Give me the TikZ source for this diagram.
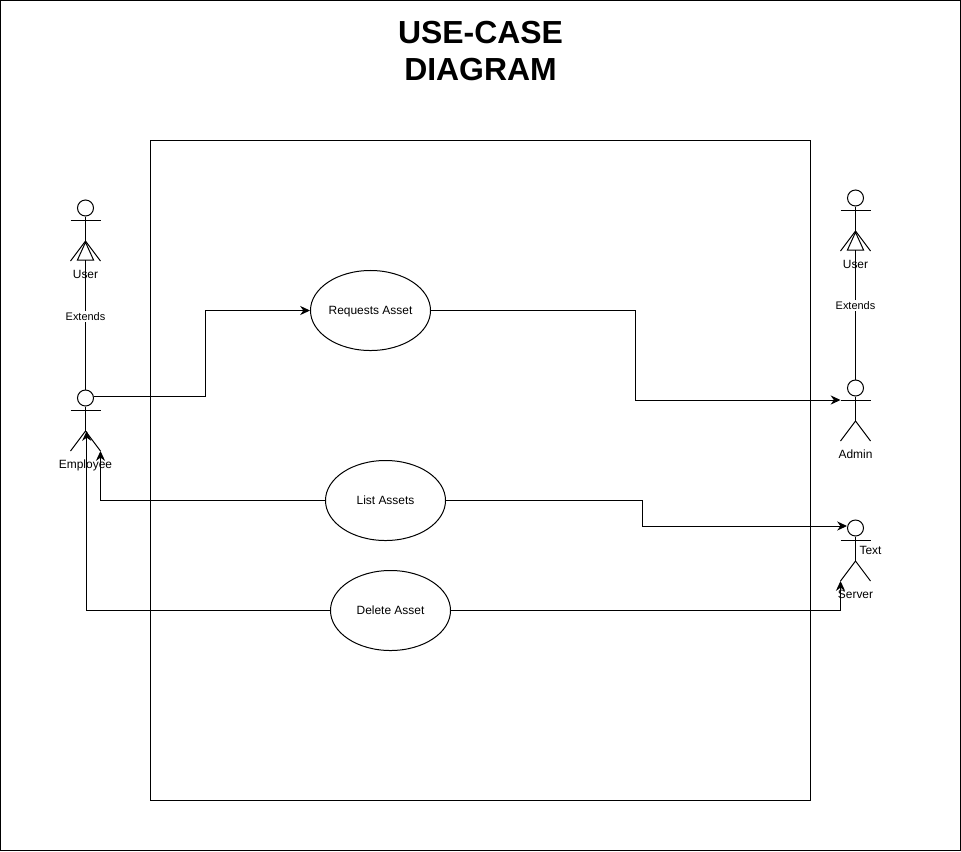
\documentclass[tikz,border=0pt]{standalone}
\usepackage{fontspec}
\setmainfont{Liberation Sans}
\usetikzlibrary{arrows.meta,positioning,shapes.geometric}
\tikzset{
  usecase/.style={draw,ellipse,minimum width=3cm,minimum height=2cm,inner sep=0pt,text height=6pt,text depth=0.6pt,font=\fontsize{8.5}{10}\selectfont},
  flow/.style={-{Stealth[length=7pt,width=6.5pt]}},
  extends/.style={-{Triangle[open,length=14pt,width=12.5pt]}},
  small/.style={inner sep=1pt,text height=6pt,text depth=0.6pt,font=\fontsize{8.5}{10}\selectfont},
  extlabel/.style={fill=white,inner sep=1pt,font=\fontsize{7.8}{9}\selectfont},
  actor/.pic={
    \node (-head) [draw,circle,minimum size=0.4cm,inner sep=0pt] at (0,0) {};
    \coordinate (-hip) at (0,33);
    \coordinate (-lhand) at (-15,12);
    \coordinate (-rhand) at (15,12);
    \coordinate (-lfoot) at (-15,53);
    \coordinate (-rfoot) at (15,53);
    \draw (-head) -- (-hip);
    \draw (-lhand) -- (-rhand);
    \draw (-lfoot) -- (-hip) -- (-rfoot);
    \node (-label) [small] at (0,66.5) {#1};
  }
}

\begin{document}
\begin{tikzpicture}[x=0.025cm,y=-0.025cm,line width=0.71pt]
  \useasboundingbox (0,0) rectangle (961,851);
  \draw (0.5,0.5) rectangle (960.5,850.5);
  \draw (150.5,140.5) rectangle (810.5,800.5);
  \node (title) at (480.5,51) [align=center,font=\fontsize{22.7}{26.3}\selectfont\bfseries] {USE-CASE\\DIAGRAM};

  % actors
  \pic (usrl) at (85.5,208) {actor=User};
  \pic (emp) at (85.5,398) {actor=Employee};
  \pic (usrr) at (855.5,198) {actor=User};
  \pic (adm) at (855.5,388) {actor=Admin};
  \pic (srv) at (855.5,528) {actor=Server};
  \node (srvtext) [small] at (870.5,551) {Text};

  % use cases
  \node (requests) [usecase] at (370.5,310.5) {Requests Asset};
  \node (list) [usecase] at (385.5,500.5) {List Assets};
  \node (delete) [usecase] at (390.5,610.5) {Delete Asset};

  % connectors
  \draw [extends] (emp-head) -- (usrl-hip) node[pos=0.49,extlabel] (extl) {Extends};
  \draw [extends] (adm-head) -- (usrr-hip) node[pos=0.5,extlabel] (extr) {Extends};
  \draw [flow] ([yshift=0.04cm]emp-head.east) -- ++(111,0) |- (requests.west);
  \draw [flow] (requests.east) -- ++(204.5,0) |- (adm-lhand);
  \draw [flow] (list.west) -| (emp-rfoot);
  \draw [flow] (list.east) -- ++(196.5,0) |- ([yshift=0.05cm]srv-head.west);
  \draw [flow] (delete.west) -| ([xshift=0.03cm]emp-hip);
  \draw [flow] (delete.east) -| (srv-lfoot);
\end{tikzpicture}
\end{document}
